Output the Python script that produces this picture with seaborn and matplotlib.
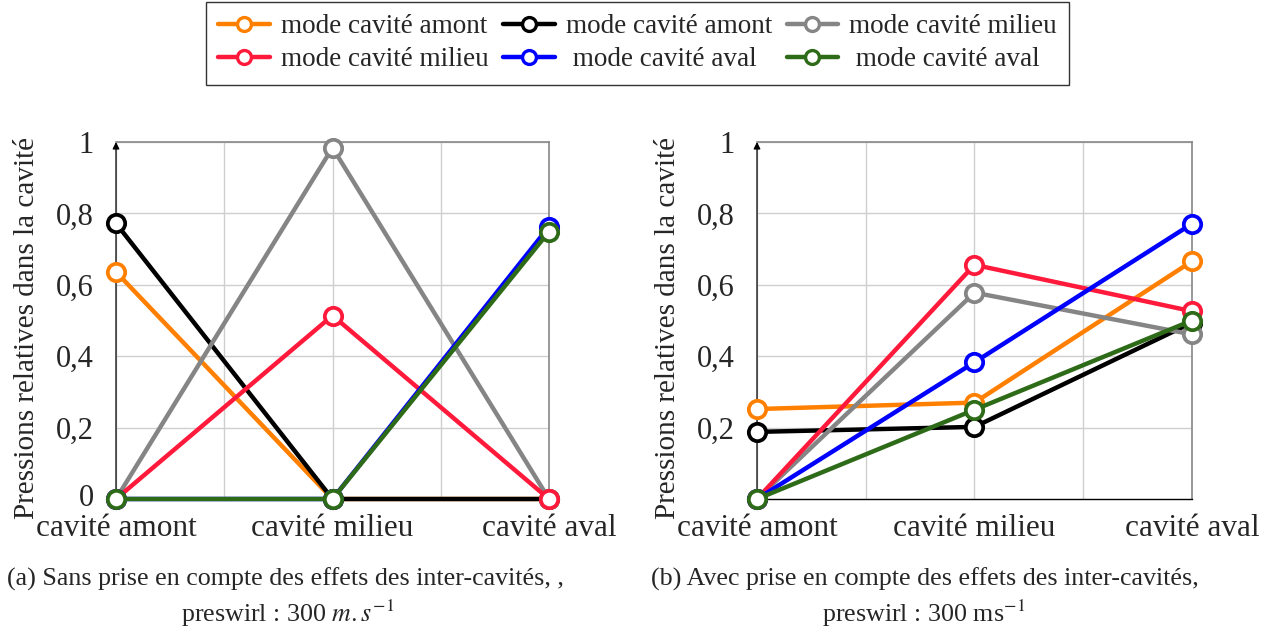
import matplotlib
matplotlib.use("Agg")
import matplotlib.pyplot as plt
import matplotlib.transforms as mtransforms
import seaborn as sns
import pandas as pd
from matplotlib.lines import Line2D

# Categories along the x axis
categories = ["cavité amont", "cavité milieu", "cavité aval"]

# Series labels and colours (legend order)
labels = ["mode cavité amont", "mode cavité amont", "mode cavité milieu",
          "mode cavité milieu", " mode cavité aval", " mode cavité aval"]
colors = ["#FF8000", "#000000", "#858585", "#FF1A3C", "#0000FF", "#2E6B18"]

# (a) without inter-cavity effects
vals_a = [
    [0.636, 0.0, 0.0],
    [0.772, 0.0, 0.0],
    [0.0, 0.984, 0.0],
    [0.0, 0.514, 0.0],
    [0.0, 0.0, 0.763],
    [0.0, 0.0, 0.749],
]
# (b) with inter-cavity effects
vals_b = [
    [0.252, 0.270, 0.666],
    [0.188, 0.202, 0.494],
    [0.0, 0.578, 0.461],
    [0.0, 0.656, 0.526],
    [0.0, 0.383, 0.771],
    [0.0, 0.250, 0.500],
]

yticks_a = [0, 0.2, 0.4, 0.6, 0.8, 1.0]
yticklabels_a = ["0", "0,2", "0,4", "0,6", "0,8", "1"]
yticks_b = [0.2, 0.4, 0.6, 0.8, 1.0]
yticklabels_b = ["0,2", "0,4", "0,6", "0,8", "1"]

ylabel = "Pressions relatives dans la cavité"
caption_a = ["(a) Sans prise en compte des effets des inter-cavités, ,",
             r"preswirl : 300 $m.s^{-1}$"]
caption_b = ["(b) Avec prise en compte des effets des inter-cavités,",
             r"preswirl : 300 ms$^{-1}$"]

sns.set_theme(style="white")
plt.rcParams["font.family"] = ["Liberation Serif", "DejaVu Serif"]
plt.rcParams["mathtext.fontset"] = "stix"

fig = plt.figure(figsize=(12.67, 6.30), dpi=100)
W, H = 1267, 630


def make_axes(x0, x1, y_top, y_bot):
    return fig.add_axes([x0 / W, 1 - y_bot / H, (x1 - x0) / W, (y_bot - y_top) / H])


ax_a = make_axes(116, 549, 142, 499)
ax_b = make_axes(757, 1192, 142, 499)

LW = 3.2
MS = 12.5
LABEL_GAP = 76  # pixels between y-label anchor and the y axis


def draw(ax, vals, yticks, yticklabels):
    x = list(range(len(categories)))
    for lab, col, v in zip(labels, colors, vals):
        df = pd.DataFrame({"x": x, "y": v})
        sns.lineplot(data=df, x="x", y="y", ax=ax, color=col, linewidth=LW,
                     marker="o", markersize=MS, markerfacecolor="white",
                     markeredgecolor=col, markeredgewidth=2.7, legend=False,
                     zorder=3, clip_on=False)
    ax.set_xlim(0, 2)
    ax.set_ylim(0, 1)
    ax.set_xticks([0, 0.5, 1, 1.5, 2], minor=False)
    ax.set_xticklabels([categories[0], "", categories[1], "", categories[2]])
    ax.set_yticks(yticks)
    ax.set_yticklabels(yticklabels)
    ax.grid(True, color="#cfcfcf", linewidth=1.0, zorder=0)
    ax.tick_params(axis="x", length=0, pad=11, labelsize=22.5)
    ax.tick_params(axis="y", direction="in", length=4, width=0.8, pad=16,
                   labelsize=22, color="black")
    ax.set_xlabel("")
    ax.set_ylabel(ylabel, fontsize=21)
    bbox = ax.get_position()
    ax.yaxis.set_label_coords(-LABEL_GAP / (bbox.width * W), 0.48)
    for s in ("top", "right"):
        ax.spines[s].set_color("#888888")
        ax.spines[s].set_linewidth(1.2)
    ax.spines["left"].set_visible(False)
    ax.spines["bottom"].set_color("black")
    ax.spines["bottom"].set_linewidth(1.0)
    ax.annotate("", xy=(0, 1.0), xycoords="axes fraction", xytext=(0, 0),
                textcoords="axes fraction",
                arrowprops=dict(arrowstyle="-|>", color="black", lw=0.9,
                                mutation_scale=10, shrinkA=0, shrinkB=0),
                zorder=2)


draw(ax_a, vals_a, yticks_a, yticklabels_a)
draw(ax_b, vals_b, yticks_b, yticklabels_b)

# lift the "0" label a little so it clears the category label below it
zero_lbl = ax_a.get_yticklabels()[0]
zero_lbl.set_transform(zero_lbl.get_transform()
                       + mtransforms.ScaledTranslation(0, 4 / 100, fig.dpi_scale_trans))

# Shared legend above both panels (column-major fill for 3 columns)
handles = [Line2D([], [], color=c, linewidth=LW, marker="o", markersize=10,
                  markerfacecolor="white", markeredgecolor=c, markeredgewidth=2.4)
           for c in colors]
order = [0, 3, 1, 4, 2, 5]
leg = fig.legend([handles[i] for i in order], [labels[i] for i in order],
                 ncol=3, loc="upper center", bbox_to_anchor=(637.5 / W, 1 - 2 / H),
                 borderaxespad=0,
                 fontsize=19.5, frameon=True, fancybox=False, edgecolor="black",
                 handlelength=1.9, handletextpad=0.4, columnspacing=0.55,
                 borderpad=0.45, labelspacing=0.3)
leg.get_frame().set_linewidth(1.0)

# Sub-figure captions
fig.text(285 / W, 1 - 579 / H, caption_a[0], ha="center", va="center", fontsize=18.7)
fig.text(288 / W, 1 - 613 / H, caption_a[1], ha="center", va="center", fontsize=18.7)
fig.text(925 / W, 1 - 579 / H, caption_b[0], ha="center", va="center", fontsize=18.7)
fig.text(924 / W, 1 - 613 / H, caption_b[1], ha="center", va="center", fontsize=18.7)

fig.savefig("out.png", dpi=100)
